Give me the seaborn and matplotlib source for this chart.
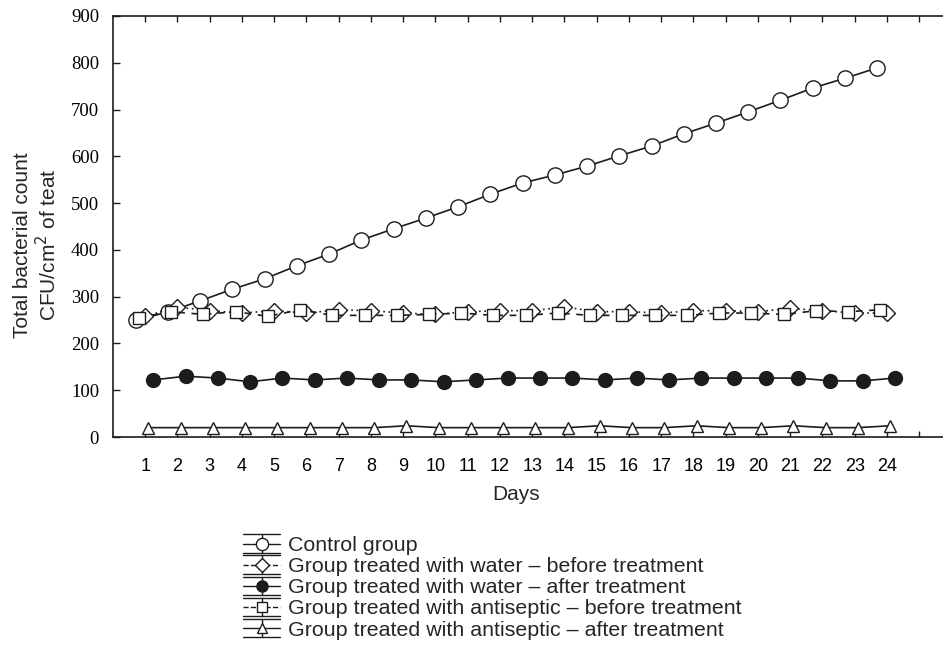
import numpy as np
import pandas as pd
import matplotlib
matplotlib.use("Agg")
import matplotlib.pyplot as plt
import seaborn as sns
from matplotlib.lines import Line2D
from matplotlib.legend_handler import HandlerBase

# ---------------- data ----------------
days = list(range(1, 25))
control = [250, 267, 291, 316, 338, 366, 391, 421, 445, 468, 492, 519,
           543, 560, 579, 601, 622, 648, 671, 695, 720, 746, 767, 789]
water_before = [258, 278, 270, 265, 270, 265, 272, 270, 265, 262, 268, 270,
                270, 278, 268, 268, 265, 270, 270, 268, 275, 270, 265, 265]
water_after = [122, 130, 126, 118, 126, 122, 126, 122, 122, 118, 122, 126,
               126, 126, 122, 126, 122, 126, 126, 126, 126, 120, 120, 126]
antiseptic_before = [255, 268, 262, 268, 258, 272, 260, 260, 260, 262, 265, 260,
                     260, 265, 260, 260, 260, 260, 265, 265, 262, 270, 268, 272]
antiseptic_after = [20, 20, 20, 20, 20, 20, 20, 20, 24, 20, 20, 20,
                    20, 20, 24, 20, 20, 24, 20, 20, 24, 20, 20, 24]
labels = ["Control group",
          "Group treated with water \u2013 before treatment",
          "Group treated with water \u2013 after treatment",
          "Group treated with antiseptic \u2013 before treatment",
          "Group treated with antiseptic \u2013 after treatment"]
series = [control, water_before, water_after, antiseptic_before, antiseptic_after]
xticks = list(range(1, 26))
xticklabels = [str(d) for d in range(1, 25)] + [""]
yticks = list(range(0, 901, 100))

# ---------------- styles ----------------
INK = "#1c1c1c"
styles = [
    dict(offset=-0.30, ls="-", marker="o", mfc="white", ms=11),
    dict(offset=0.00, ls=(0, (1, 2.2)), marker="D", mfc="white", ms=8.5),
    dict(offset=0.25, ls="-", marker="o", mfc=INK, ms=10),
    dict(offset=-0.20, ls=(0, (4, 4)), marker="s", mfc="white", ms=9),
    dict(offset=0.10, ls="-", marker="^", mfc="white", ms=8.5),
]

sns.set_style("white")
plt.rcParams["font.family"] = ["Liberation Sans", "DejaVu Sans"]

fig = plt.figure(figsize=(9.43, 6.61), dpi=100)
ax = fig.add_axes([113 / 943, 1 - 437 / 661, (943 - 113) / 943, (437 - 16) / 661])

order = [1, 3, 4, 2, 0]
for i in order:
    st = styles[i]
    df = pd.DataFrame({"x": np.array(days) + st["offset"], "y": series[i]})
    sns.lineplot(data=df, x="x", y="y", ax=ax, color=INK, linestyle=st["ls"],
                 linewidth=1.2, marker=st["marker"], markersize=st["ms"],
                 markerfacecolor=st["mfc"], markeredgecolor=INK,
                 markeredgewidth=1.0, errorbar=None, legend=False,
                 zorder=3 + i)

ax.set_xlim(0, 25.74)
ax.set_ylim(0, 900)
ax.set_xticks(xticks)
ax.set_xticklabels(xticklabels, fontsize=13)
ax.set_yticks(yticks)
ax.set_yticklabels([str(v) for v in yticks], fontsize=13.5,
                   family=["Liberation Serif", "DejaVu Serif"])
ax.tick_params(axis="x", which="both", direction="in", length=4, width=1.0,
               color=INK, pad=15, top=True, bottom=True, labelcolor="black")
ax.tick_params(axis="y", which="both", direction="in", length=5, width=1.0,
               color=INK, pad=10, left=True, right=False, labelcolor="black")
for s in ["left", "top", "bottom"]:
    ax.spines[s].set_color(INK)
    ax.spines[s].set_linewidth(1.2)
ax.spines["right"].set_visible(False)
ax.set_xlabel("")
ax.set_ylabel("")
ax.grid(False)

fig.text(37 / 943, 1 - 245 / 661,
         "Total bacterial count\nCFU/cm$^2$ of teat",
         rotation=90, ha="center", va="center", multialignment="center",
         fontsize=15, linespacing=1.15)
fig.text(516 / 943, 1 - 494 / 661, "Days", ha="center", va="center",
         fontsize=15)


# ---------------- legend ----------------
class ErrHandler(HandlerBase):
    def create_artists(self, legend, orig, xdescent, ydescent, width, height,
                       fontsize, trans):
        x0 = -xdescent
        x1 = -xdescent + width
        cx = (x0 + x1) / 2
        cy = -ydescent + height / 2
        d = 6.6
        arts = []
        for yy in (cy - d, cy + d):
            arts.append(Line2D([x0, x1], [yy, yy], color=INK, lw=1.0))
        arts.append(Line2D([cx, cx], [cy - d, cy + d], color=INK, lw=1.0))
        arts.append(Line2D([x0, x1], [cy, cy], color=INK, lw=1.0,
                           linestyle=orig.get_linestyle()))
        arts.append(Line2D([cx], [cy], marker=orig.get_marker(),
                           markersize=orig.get_markersize(),
                           markerfacecolor=orig.get_markerfacecolor(),
                           markeredgecolor=INK, markeredgewidth=1.0,
                           linestyle="none"))
        for a in arts:
            a.set_transform(trans)
        return arts


handles = []
for st in styles:
    handles.append(Line2D([], [], color=INK, linestyle=st["ls"],
                          marker=st["marker"], markersize=st["ms"] * 0.8,
                          markerfacecolor=st["mfc"]))
fig.legend(handles, labels, handler_map={Line2D: ErrHandler()},
           loc="upper left", bbox_to_anchor=(243 / 943, 1 - 536 / 661),
           bbox_transform=fig.transFigure, frameon=False, fontsize=15.4,
           handlelength=1.74, handletextpad=0.38, labelspacing=0.1,
           borderpad=0, borderaxespad=0)

fig.savefig("out.png", dpi=100)
